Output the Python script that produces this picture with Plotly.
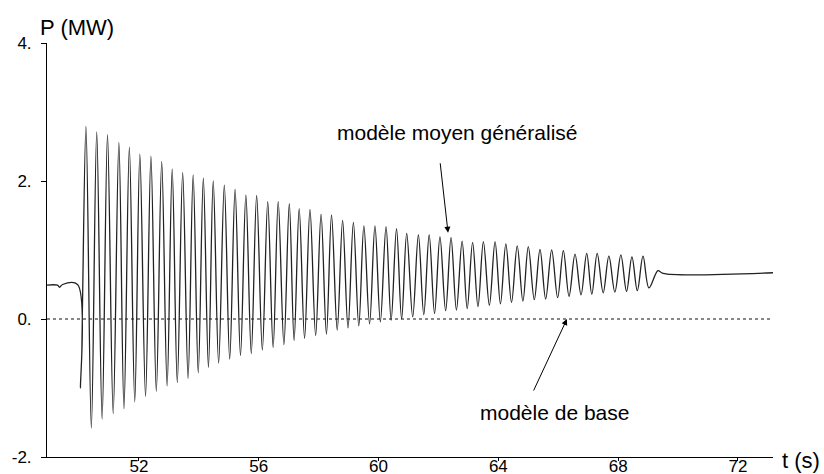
import plotly.graph_objects as go

# ---- data ----
pre_t = [48.93, 49.28, 49.35, 49.45, 49.95]
pre_p = [0.49, 0.49, 0.46, 0.50, 0.50]

peak_t = [50.23, 50.59, 50.95, 51.33, 51.68, 52.03, 52.40, 52.76, 53.11, 53.46,
          53.81, 54.15, 54.48, 54.85, 55.21, 55.57, 55.93, 56.30, 56.65, 57.02,
          57.35, 57.71, 58.08, 58.43, 58.80, 59.16, 59.51, 59.88, 60.25, 60.60,
          60.94, 61.33, 61.69, 62.05, 62.42, 62.79, 63.14, 63.50, 63.89, 64.25,
          64.63, 65.00, 65.39, 65.78, 66.17, 66.56, 66.95, 67.30, 67.69, 68.09,
          68.46, 68.83]
peak_p = [2.79, 2.71, 2.67, 2.56, 2.49, 2.39, 2.36, 2.28, 2.17, 2.12,
          2.09, 2.04, 2.00, 1.94, 1.88, 1.80, 1.79, 1.70, 1.70, 1.67,
          1.60, 1.59, 1.52, 1.51, 1.43, 1.40, 1.35, 1.35, 1.34, 1.31,
          1.24, 1.22, 1.22, 1.19, 1.18, 1.13, 1.11, 1.12, 1.12, 1.09,
          1.06, 1.05, 1.01, 1.00, 0.99, 0.94, 0.95, 0.95, 0.91, 0.93,
          0.90, 0.91]

trough_t = [50.05, 50.41, 50.77, 51.14, 51.50, 51.86, 52.22, 52.58, 52.94, 53.28,
            53.64, 53.98, 54.32, 54.66, 55.03, 55.39, 55.75, 56.12, 56.48, 56.84,
            57.18, 57.53, 57.90, 58.26, 58.62, 58.98, 59.34, 59.70, 60.06, 60.42,
            60.77, 61.14, 61.51, 61.87, 62.24, 62.60, 62.96, 63.32, 63.70, 64.07,
            64.44, 64.82, 65.20, 65.58, 65.98, 66.36, 66.76, 67.12, 67.50, 67.89,
            68.28, 68.64, 69.03]
trough_p = [-1.00, -1.58, -1.45, -1.37, -1.30, -1.20, -1.12, -1.05, -0.97, -0.92,
            -0.86, -0.78, -0.70, -0.64, -0.58, -0.53, -0.50, -0.45, -0.41, -0.37,
            -0.31, -0.28, -0.24, -0.22, -0.16, -0.13, -0.10, -0.07, -0.04, -0.02,
            0.00, 0.03, 0.06, 0.08, 0.12, 0.13, 0.15, 0.18, 0.20, 0.22,
            0.24, 0.26, 0.28, 0.29, 0.31, 0.33, 0.35, 0.36, 0.38, 0.39,
            0.40, 0.41, 0.45]

post_t = [69.33, 69.50, 73.17]
post_p = [0.70, 0.66, 0.67]

base_t = [48.93, 73.17]
base_p = [0.0, 0.0]

x_ticks = [52, 56, 60, 64, 68, 72]
x_ticktext = ["52", "56", "60", "64", "68", "72"]
y_ticks = [4, 2, 0, -2]
y_ticktext = ["4.", "2.", "0.", "-2."]

label_gmm = "modèle moyen généralisé"
label_base = "modèle de base"

# ---- assemble the oscillating curve ----
osc_t = list(pre_t)
osc_p = list(pre_p)
for i in range(len(peak_t)):
    osc_t += [trough_t[i], peak_t[i]]
    osc_p += [trough_p[i], peak_p[i]]
osc_t.append(trough_t[-1])
osc_p.append(trough_p[-1])
osc_t += post_t
osc_p += post_p

FONT = "Liberation Sans, Arial, Helvetica, sans-serif"

fig = go.Figure()
fig.add_trace(go.Scatter(x=base_t, y=base_p, mode="lines",
                         line=dict(color="#111", width=1, dash="dot"),
                         hoverinfo="skip", showlegend=False))
fig.add_trace(go.Scatter(x=osc_t, y=osc_p, mode="lines",
                         line=dict(color="#222", width=1.3, shape="spline", smoothing=1),
                         showlegend=False))

fig.update_layout(
    width=824, height=474,
    margin=dict(l=47, r=51, t=43, b=17, autoexpand=False),
    paper_bgcolor="white", plot_bgcolor="white",
    font=dict(family=FONT, color="black"),
    xaxis=dict(range=[48.93, 73.17], showgrid=False, zeroline=False, automargin=False,
               showline=True, linecolor="black", linewidth=1,
               ticks="outside", ticklen=3, tickcolor="black",
               tickvals=x_ticks, ticktext=x_ticktext,
               tickfont=dict(size=17, family=FONT), ticklabelstandoff=-9),
    yaxis=dict(range=[-2, 4], showgrid=False, zeroline=False, automargin=False,
               showline=True, linecolor="black", linewidth=1,
               ticks="outside", ticklen=5, tickcolor="black",
               tickvals=y_ticks, ticktext=y_ticktext,
               tickfont=dict(size=17, family=FONT), ticklabelstandoff=6),
    annotations=[
        dict(text="P (MW)", xref="paper", yref="paper", x=-0.0124, y=1.0386,
             xanchor="left", yanchor="middle", showarrow=False,
             font=dict(size=22, family=FONT)),
        dict(text="t (s)", xref="paper", yref="paper", x=1.0096, y=-0.0096,
             xanchor="left", yanchor="middle", showarrow=False,
             font=dict(size=22, family=FONT)),
        dict(text=label_gmm, xref="paper", yref="paper", x=0.5647, y=0.7831,
             xanchor="center", yanchor="middle", showarrow=False,
             font=dict(size=21, family=FONT)),
        dict(text=label_base, xref="paper", yref="paper", x=0.5937, y=0.1084,
             xanchor="left", yanchor="middle", showarrow=False,
             font=dict(size=21, family=FONT)),
        dict(text="", x=62.32, y=1.25, xref="x", yref="y", ax=-8, ay=-71,
             showarrow=True, arrowhead=2, arrowsize=1.2, arrowwidth=1,
             arrowcolor="black", standoff=0),
        dict(text="", x=66.29, y=0.0, xref="x", yref="y", ax=-34, ay=73,
             showarrow=True, arrowhead=2, arrowsize=1.2, arrowwidth=1,
             arrowcolor="black", standoff=0),
    ],
)

fig.write_html("out.html", config={"displayModeBar": False},
               post_script="document.body.style.margin='0';document.body.style.overflow='hidden';")
